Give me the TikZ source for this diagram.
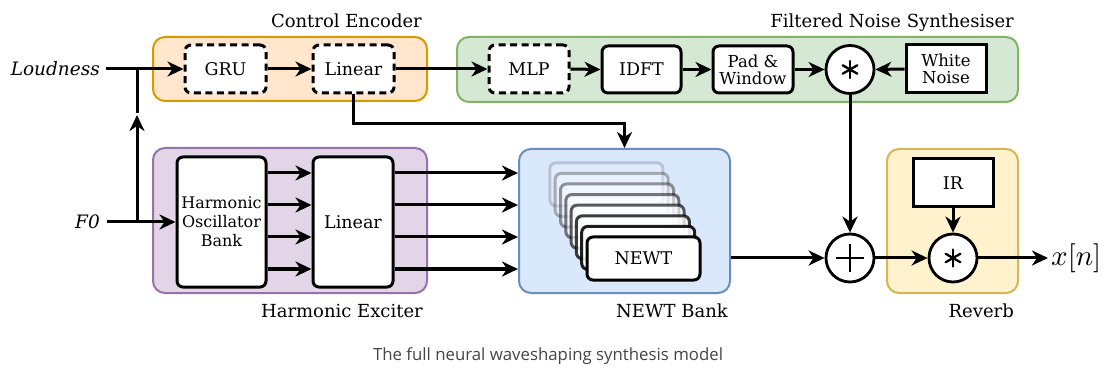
\documentclass[tikz,border=0pt]{standalone}
\usepackage{fontspec}
\setmainfont{DejaVu Serif}
\newfontfamily\capfont{Open Sans}
\usetikzlibrary{arrows.meta,calc}
\definecolor{ceFill}{HTML}{FFE6CC}\definecolor{ceDraw}{HTML}{D79B00}
\definecolor{fnFill}{HTML}{D5E8D4}\definecolor{fnDraw}{HTML}{82B366}
\definecolor{heFill}{HTML}{E1D5E7}\definecolor{heDraw}{HTML}{9673A6}
\definecolor{nbFill}{HTML}{DAE8FC}\definecolor{nbDraw}{HTML}{6C8EBF}
\definecolor{rvFill}{HTML}{FFF2CC}\definecolor{rvDraw}{HTML}{D6B656}
\definecolor{capgray}{HTML}{444444}
\begin{document}
\begin{tikzpicture}[x=1pt,y=-1pt,
  container/.style={draw, line width=2pt, rounded corners=12pt, inner sep=0pt},
  blk/.style={draw, line width=3pt, rounded corners=6pt, fill=white, inner sep=0pt, align=center, font=\fontsize{17.5}{19}\selectfont},
  dblk/.style={blk, dash pattern=on 7pt off 4.5pt},
  sblk/.style={blk, rounded corners=0pt},
  op/.style={draw, circle, line width=2.8pt, fill=white, minimum size=48pt, inner sep=0pt},
  arr/.style={-{Stealth[length=16pt,width=15pt,inset=5pt]}, line width=3pt},
  ln/.style={line width=3pt},
  lbl/.style={font=\fontsize{18}{20}\selectfont, inner sep=0pt},
  inp/.style={font=\fontsize{18.5}{20}\selectfont\itshape, inner sep=0pt},
  sym/.style={line width=2.3pt, line cap=round},
]
\useasboundingbox (0,0) rectangle (1114,374);

% containers
\node[container, fill=ceFill, draw=ceDraw, minimum width=274pt, minimum height=64pt] (ce) at (290,69) {};
\node[container, fill=fnFill, draw=fnDraw, minimum width=561pt, minimum height=65pt] (fn) at (737.5,69.5) {};
\node[container, fill=heFill, draw=heDraw, minimum width=274pt, minimum height=145pt] (he) at (290,220.5) {};
\node[container, fill=nbFill, draw=nbDraw, minimum width=211pt, minimum height=144pt] (nb) at (624.5,221) {};
\node[container, fill=rvFill, draw=rvDraw, minimum width=131pt, minimum height=144pt] (rv) at (952.5,221) {};

% container labels
\node[lbl, anchor=base east] (celbl) at ($(ce.north east)+(-6,-8.5)$) {Control Encoder};
\node[lbl, anchor=base east] (fnlbl) at ($(fn.north east)+(-5,-8.5)$) {Filtered Noise Synthesiser};
\node[lbl, anchor=base east] (helbl) at ($(he.south east)+(-5,23.5)$) {Harmonic Exciter};
\node[lbl, anchor=base east] (nblbl) at ($(nb.south east)+(-3,23.5)$) {NEWT Bank};
\node[lbl, anchor=base east] (rvlbl) at ($(rv.south east)+(-5,23.5)$) {Reverb};

% control encoder blocks
\node[dblk, minimum width=81pt, minimum height=48pt] (gru) at (225.5,69) {GRU};
\node[dblk, minimum width=81pt, minimum height=48pt] (lin1) at (353.5,69) {Linear};

% filtered noise blocks
\node[dblk, minimum width=80pt, minimum height=48pt] (mlp) at (529,69) {MLP};
\node[blk, minimum width=79pt, minimum height=47pt] (idft) at (641.5,69.5) {IDFT};
\node[blk, minimum width=80pt, minimum height=47pt, font=\fontsize{16.5}{17}\selectfont] (pw) at (753,69.5) {Pad \&\\Window};
\node[op] (nc) at (850,69.5) {};
\node[sblk, minimum width=80pt, minimum height=48pt, font=\fontsize{16.5}{17}\selectfont] (wn) at (946,69) {White\\Noise};

% harmonic exciter blocks
\node[blk, minimum width=89pt, minimum height=130pt, font=\fontsize{16}{19}\selectfont] (hob) at (221.5,222) {Harmonic\\Oscillator\\Bank};
\node[blk, minimum width=80pt, minimum height=130pt] (lin2) at (353,222) {Linear};

% NEWT stack
\foreach \i in {7,6,...,1} {
  \pgfmathsetmacro\op{1-0.12*\i}
  \node[blk, minimum width=113pt, minimum height=43pt, draw opacity=\op, fill opacity=\op] (nw\i) at ($(643.5,258.5)+(-5.3*\i,-10.6*\i)$) {};
}
\node[blk, minimum width=113pt, minimum height=43pt] (nw0) at (643.5,258.5) {NEWT};

% sum and reverb
\node[op] (plus) at (850,258) {};
\node[sblk, minimum width=80pt, minimum height=48pt] (ir) at (953,183) {IR};
\node[op] (cv) at (953,258) {};
\node[anchor=west, inner sep=0pt] (xn) at (1051,258) {\scalebox{2.9}{$x[n]$}};

% operator symbols
\foreach \a in {90,30,150} {
  \draw[sym] ($(nc.center)+(\a:8.5)$) -- ($(nc.center)+(\a+180:8.5)$);
  \draw[sym] ($(cv.center)+(\a:8.5)$) -- ($(cv.center)+(\a+180:8.5)$);
}
\draw[line width=1.5pt] ($(plus.center)+(-14,0)$) -- ($(plus.center)+(14,0)$);
\draw[line width=1.5pt] ($(plus.center)+(0,-14)$) -- ($(plus.center)+(0,14)$);

% inputs
\node[inp, anchor=east] (loud) at (100,69) {Loudness};
\node[inp, anchor=east] (f0) at (100,222) {F0};
\coordinate (j1) at (137,69);
\coordinate (j2) at (137,222);
\coordinate (jm) at (137,115);

% connectors
\draw[arr] ([xshift=6pt]loud.east) -- (gru.west);
\draw[arr] ([xshift=7pt]f0.east) -- (hob.west);
\draw[arr] (j2) -- (jm);
\draw[ln] ([yshift=2pt]jm) -- (j1);
\draw[arr] (gru.east) -- (lin1.west);
\draw[arr] (lin1.east) -- (mlp.west);
\draw[arr] (mlp.east) -- (idft.west);
\draw[arr] (idft.east) -- (pw.west);
\draw[arr] (pw.east) -- (nc.west);
\draw[arr] (wn.west) -- (nc.east);
\draw[arr] (lin1.south) |- ($(nb.north)+(0,-24)$) -- (nb.north);
\foreach \yy in {173,205,237,269} {
  \draw[arr] (hob.east |- 0,\yy) -- (lin2.west |- 0,\yy);
  \draw[arr] (lin2.east |- 0,\yy) -- (nb.west |- 0,\yy);
}
\draw[arr] (nc.south) -- (plus.north);
\draw[arr] (nb.east |- plus.west) -- (plus.west);
\draw[arr] (plus.east) -- (cv.west);
\draw[arr] (ir.south) -- (cv.north);
\draw[arr] (cv.east) -- ([xshift=-3pt]xn.west);

% caption
\node[font=\capfont\fontsize{16.8}{19}\selectfont, text=capgray] (cap) at (548,356) {The full neural waveshaping synthesis model};
\end{tikzpicture}
\end{document}
